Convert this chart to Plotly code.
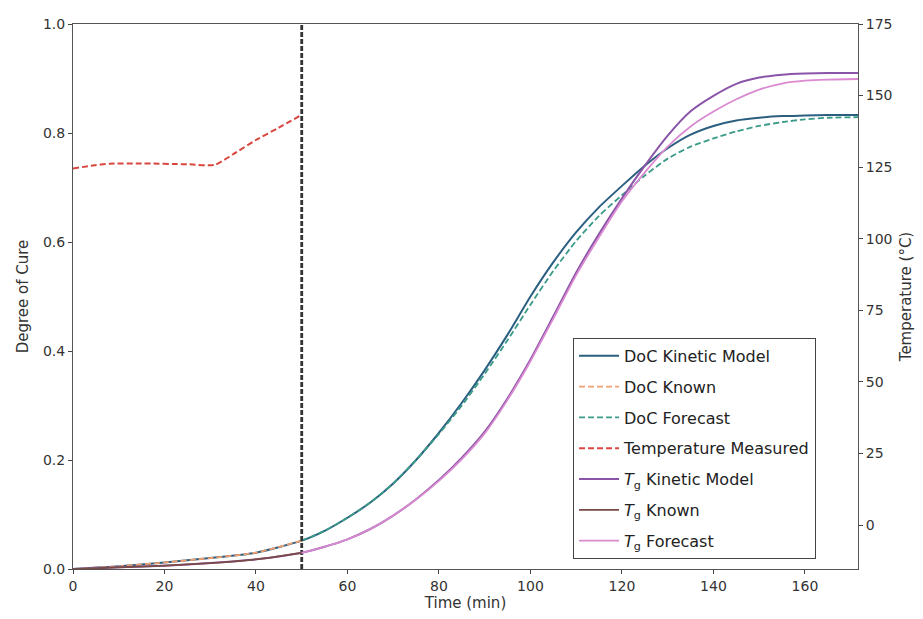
import plotly.graph_objects as go

# ---------------- data ----------------
t_full = [0, 10, 20, 30, 40, 50, 55, 60, 65, 70, 75, 80, 85, 90, 95, 100, 105, 110,
          115, 120, 125, 130, 135, 140, 145, 150, 155, 160, 165, 172]
doc_kinetic = [0.0, 0.005, 0.012, 0.02, 0.03, 0.052, 0.07, 0.094, 0.122, 0.157, 0.2, 0.25,
               0.305, 0.365, 0.43, 0.5, 0.563, 0.618, 0.664, 0.703, 0.74, 0.772, 0.797,
               0.813, 0.823, 0.828, 0.831, 0.832, 0.833, 0.833]

t_known = [0, 10, 20, 30, 40, 50]
doc_known = [0.0, 0.005, 0.012, 0.02, 0.03, 0.052]

t_fore = [50, 55, 60, 65, 70, 75, 80, 85, 90, 95, 100, 105, 110, 115, 120, 125, 130,
          135, 140, 145, 150, 155, 160, 165, 172]
doc_forecast = [0.052, 0.07, 0.094, 0.122, 0.157, 0.2, 0.248, 0.3, 0.358, 0.42, 0.485,
                0.547, 0.602, 0.648, 0.686, 0.722, 0.753, 0.775, 0.79, 0.803, 0.813,
                0.82, 0.825, 0.828, 0.829]

t_temp = [0, 4, 8, 15, 25, 31, 35, 40, 45, 50]
temp_measured = [124.5, 125.5, 126.2, 126.3, 126.0, 125.8, 129.5, 134.5, 138.8, 143.3]

tg_kinetic = [-15.4, -14.8, -14.2, -13.3, -12.0, -9.7, -7.6, -5.0, -1.4, 3.3, 9.0, 15.7,
              23.5, 32.6, 44.3, 57.8, 72.9, 88.2, 101.7, 114.1, 125.5, 136.0, 144.5,
              149.9, 154.1, 156.3, 157.3, 157.7, 157.9, 157.9]
tg_known = [-15.4, -14.8, -14.2, -13.3, -12.0, -9.7]
tg_forecast = [-9.7, -7.6, -5.0, -1.4, 3.3, 8.9, 15.4, 23.0, 32.0, 43.7, 57.2, 72.1,
               87.3, 100.6, 113.1, 123.2, 132.2, 139.2, 144.4, 148.7, 152.1, 154.2,
               155.2, 155.6, 155.8]

split_time = 50
x_ticks = [0, 20, 40, 60, 80, 100, 120, 140, 160]
y_ticks = [0.0, 0.2, 0.4, 0.6, 0.8, 1.0]
y2_ticks = [0, 25, 50, 75, 100, 125, 150, 175]

# ---------------- figure ----------------
C_DOC = "#2b5f80"
C_DOC_KNOWN = "#f0a070"
C_DOC_FORE = "#3a9a88"
C_TEMP = "#d9463e"
C_TG = "#8a55a8"
C_TG_KNOWN = "#7a4a44"
C_TG_FORE = "#d98ad0"

FONT = "DejaVu Sans, Liberation Sans, Arial, sans-serif"

fig = go.Figure()

def add(x, y, name, color, dash="solid", width=1.8, yaxis="y"):
    fig.add_trace(go.Scatter(x=x, y=y, name=name, mode="lines", yaxis=yaxis,
                             line=dict(color=color, dash=dash, width=width,
                                       shape="spline", smoothing=0.6),
                             legendgroup=name))

add(t_full, doc_kinetic, "DoC Kinetic Model", C_DOC, width=2.0)
add(t_known, doc_known, "DoC Known", C_DOC_KNOWN, dash="6px,3px")
add(t_fore, doc_forecast, "DoC Forecast", C_DOC_FORE, dash="6px,3px")
add(t_temp, temp_measured, "Temperature Measured", C_TEMP, dash="6px,3px", width=2.0, yaxis="y2")
add(t_full, tg_kinetic, "<i>T</i><sub>g</sub> Kinetic Model", C_TG, width=2.0, yaxis="y2")
add(t_known, tg_known, "<i>T</i><sub>g</sub> Known", C_TG_KNOWN, yaxis="y2")
add(t_fore, tg_forecast, "<i>T</i><sub>g</sub> Forecast", C_TG_FORE, yaxis="y2")

fig.add_trace(go.Scatter(x=[split_time, split_time], y=[0, 1], mode="lines", showlegend=False,
                         line=dict(color="#333333", dash="5px,2px", width=2.8), hoverinfo="skip"))

tick_font = dict(family=FONT, size=14, color="#333333")
title_font = dict(family=FONT, size=15, color="#333333")

fig.update_layout(
    width=915, height=611,
    margin=dict(l=65, r=65, t=16, b=50, autoexpand=False),
    paper_bgcolor="white", plot_bgcolor="white",
    font=tick_font,
    showlegend=True,
    legend=dict(x=0.637, y=0.424, xanchor="left", yanchor="top",
                bgcolor="white", bordercolor="#444444", borderwidth=1,
                font=dict(family=FONT, size=16, color="#222222"),
                tracegroupgap=7, itemwidth=40),
    xaxis=dict(range=[0, 171.6], tickvals=x_ticks, ticks="outside", ticklen=4,
               tickfont=tick_font,
               showline=True, linecolor="#555555", linewidth=1, mirror=True,
               showgrid=False, zeroline=False,
               title=dict(text="Time (min)", standoff=2, font=title_font)),
    yaxis=dict(range=[0, 1], tickvals=y_ticks, tickformat=".1f", ticks="outside", ticklen=4,
               tickfont=tick_font,
               showline=True, linecolor="#555555", linewidth=1,
               showgrid=False, zeroline=False,
               title=dict(text="Degree of Cure", standoff=10, font=title_font)),
    yaxis2=dict(range=[-15.37, 175], tickvals=y2_ticks, ticks="outside", ticklen=4,
                tickfont=tick_font,
                overlaying="y", side="right",
                showline=True, linecolor="#555555", linewidth=1,
                showgrid=False, zeroline=False,
                title=dict(text="Temperature (°C)", standoff=8, font=title_font)),
)

fig.write_html("out.html")
